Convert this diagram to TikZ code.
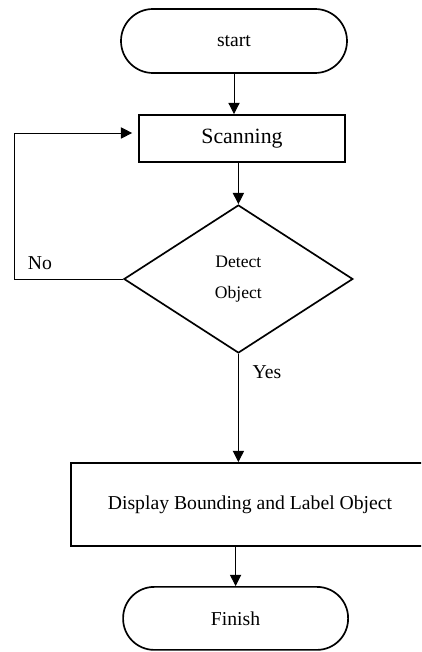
\documentclass[tikz,border=0pt]{standalone}
\usepackage{fontspec}
\setmainfont{Liberation Serif}
\usetikzlibrary{shapes.geometric,arrows.meta}

\begin{document}
\begin{tikzpicture}[flowline/.style={draw=black,line width=0.7pt,-{Triangle[length=8pt,width=8pt]}}]
    \useasboundingbox (0,0) rectangle (10.525,16.3);
    \clip (0,0) rectangle (10.525,16.3);
    \begin{scope}[every node/.style={draw,line width=1.2pt,font=\fontsize{14}{17}\selectfont}]
      \node[rounded corners=0.8cm,minimum width=5.65cm,minimum height=1.6cm] (start) at (5.85,15.275) {start};
      \node[minimum width=5.15cm,minimum height=1.175cm,font=\fontsize{15.5}{18}\selectfont] (scan) at (6.05,12.84) {Scanning};
      \node[diamond,aspect=1.55,inner sep=0pt,minimum width=5.725cm,minimum height=3.7cm,align=center,font=\fontsize{12.5}{22}\selectfont] (detect) at (5.96,9.325) {Detect\\Object};
      \node[minimum width=8.95cm,minimum height=2.075cm] (display) at (6.25,3.69) {Display Bounding and Label Object};
      \node[rounded corners=0.78cm,minimum width=5.625cm,minimum height=1.575cm] (finish) at (5.89,0.84) {Finish};
    \end{scope}
    \coordinate (loop) at (0.35,12.975);
    \node[font=\fontsize{14}{17}\selectfont] (no) at (1.0,9.725) {No};
    \node[font=\fontsize{14}{17}\selectfont] (yes) at (6.675,7.0) {Yes};
    \begin{scope}[every edge/.style={flowline}]
      \path (start) edge (start |- scan.north);
      \path (detect |- scan.south) edge (detect);
      \path (detect.south) edge (detect.south |- display.north);
      \path (finish |- display.south) edge (finish);
    \end{scope}
    \draw[flowline,shorten >=0.15cm] (detect.west) -| (loop) -- (loop -| scan.west);
  \end{tikzpicture}
\end{document}
